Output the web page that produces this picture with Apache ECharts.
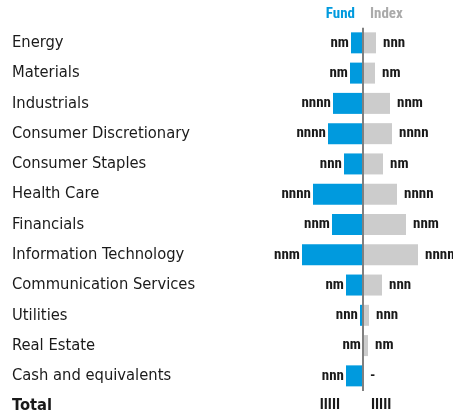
<!DOCTYPE html>
<html>
<head>
<meta charset="utf-8">
<style>
  html, body { margin: 0; padding: 0; background: #fff; }
  #chart { width: 453px; height: 419px; }
</style>
<script src="https://cdn.jsdelivr.net/npm/echarts@6/dist/echarts.min.js"></script>
</head>
<body>
<div id="chart"></div>
<script>
const sectors = ['Energy', 'Materials', 'Industrials', 'Consumer Discretionary', 'Consumer Staples',
    'Health Care', 'Financials', 'Information Technology', 'Communication Services', 'Utilities',
    'Real Estate', 'Cash and equivalents'];
const fundWeights = [12, 13, 30, 35, 19, 50, 31, 61, 17, 3, 0, 17];
const indexWeights = [13, 12, 27, 29, 20, 34, 43, 55, 19, 6, 5, 0];
const fundLabels = ['nm', 'nm', 'nnnn', 'nnnn', 'nnn', 'nnnn', 'nnm', 'nnm', 'nm', 'nnn', 'nm', 'nnn'];
const indexLabels = ['nnn', 'nm', 'nnm', 'nnnn', 'nm', 'nnnn', 'nnm', 'nnnn', 'nnn', 'nnn', 'nm', '-'];
const totalRow = ['Total'];
const totalFundLabel = 'IIIII';
const totalIndexLabel = 'IIIII';

const BLUE = '#009ade';
const GREY = '#cccccc';
const catFont = 'DejaVu Sans Condensed';
const valFont = 'Roboto Condensed';

const chart = echarts.init(document.getElementById('chart'), null, { renderer: 'canvas' });

const valueLabel = {
    show: true,
    fontFamily: valFont,
    fontWeight: 'bold',
    fontSize: 15,
    color: '#1a1a1a'
};

chart.setOption({
    animation: false,
    graphic: [
        { type: 'text', right: 453 - 355, top: 7,
          style: { text: 'Fund', fill: BLUE, font: 'bold 15px "' + valFont + '"' } },
        { type: 'text', left: 370, top: 7,
          style: { text: 'Index', fill: '#aaaaaa', font: 'bold 15px "' + valFont + '"' } }
    ],
    grid: [
        { left: 260, width: 160, top: 27.7, height: 363.3 },
        { left: 260, width: 160, top: 392, height: 30 }
    ],
    xAxis: [
        { gridIndex: 0, type: 'value', min: -103, max: 57, show: false },
        { gridIndex: 1, type: 'value', min: -103, max: 57, show: false }
    ],
    yAxis: [
        {
            gridIndex: 0, type: 'category', data: sectors, inverse: true,
            axisLine: { show: false, onZero: false }, axisTick: { show: false },
            axisLabel: { align: 'left', margin: 248, fontFamily: catFont, fontSize: 16.4, color: '#1a1a1a' }
        },
        {
            gridIndex: 1, type: 'category', data: totalRow, inverse: true,
            axisLine: { show: false, onZero: false }, axisTick: { show: false },
            axisLabel: { align: 'left', margin: 248, fontFamily: catFont, fontSize: 16.4, fontWeight: 'bold', color: '#1a1a1a' }
        }
    ],
    series: [
        {
            name: 'Fund', type: 'bar', barWidth: 21, barGap: '-100%',
            xAxisIndex: 0, yAxisIndex: 0,
            data: fundWeights.map(v => -v),
            itemStyle: { color: BLUE },
            label: Object.assign({}, valueLabel, {
                position: 'left', distance: 2,
                formatter: p => fundLabels[p.dataIndex]
            }),
            markLine: {
                silent: true, symbol: 'none', label: { show: false },
                lineStyle: { color: '#808080', width: 2, type: 'solid' },
                data: [{ xAxis: 0 }]
            }
        },
        {
            name: 'Index', type: 'bar', barWidth: 21, barGap: '-100%',
            xAxisIndex: 0, yAxisIndex: 0,
            data: indexWeights,
            itemStyle: { color: GREY },
            label: Object.assign({}, valueLabel, {
                position: 'right', distance: 7,
                formatter: p => indexLabels[p.dataIndex]
            })
        },
        {
            name: 'Fund total', type: 'bar', barWidth: 21, barGap: '-100%',
            xAxisIndex: 1, yAxisIndex: 1,
            data: [0],
            itemStyle: { color: BLUE },
            label: Object.assign({}, valueLabel, {
                position: 'left', distance: 23, formatter: totalFundLabel
            })
        },
        {
            name: 'Index total', type: 'bar', barWidth: 21, barGap: '-100%',
            xAxisIndex: 1, yAxisIndex: 1,
            data: [0],
            itemStyle: { color: GREY },
            label: Object.assign({}, valueLabel, {
                position: 'right', distance: 8, formatter: totalIndexLabel
            })
        }
    ]
});
</script>
</body>
</html>
